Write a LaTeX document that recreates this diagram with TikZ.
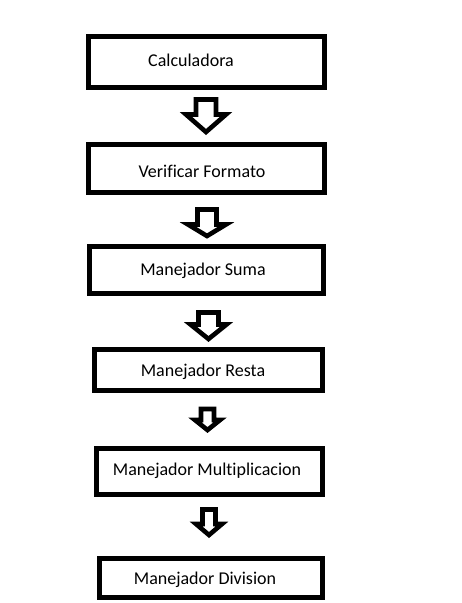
\documentclass[tikz,border=0pt]{standalone}
\usepackage{fontspec}
\setmainfont{Carlito}[Ligatures=NoCommon]
\begin{document}
\begin{tikzpicture}[x=1pt,y=-1pt,
  box/.style={draw=black, line width=5pt, inner sep=0pt},
  lbl/.style={font=\fontsize{18pt}{21pt}\selectfont, inner sep=0pt, text=black},
  blk/.style={draw=black, line width=4.6pt, line join=miter, fill=white}]
\useasboundingbox (0,0) rectangle (461,603);
\fill[white] (0,0) rectangle (461,603);
\newcommand\blockarr[6]{\draw[blk] (#1-#5,#2) -- (#1+#5,#2) -- (#1+#5,#3) -- (#1+#6,#3) -- (#1,#4) -- (#1-#6,#3) -- (#1-#5,#3) -- cycle;}
% boxes
\node[box, minimum width=236pt, minimum height=51pt] (b1) at (206.5,62) {};
\node[box, minimum width=236pt, minimum height=48pt] (b2) at (206.5,168.5) {};
\node[box, minimum width=234pt, minimum height=47pt] (b3) at (206.5,270) {};
\node[box, minimum width=228pt, minimum height=41pt] (b4) at (208.5,370) {};
\node[box, minimum width=226pt, minimum height=46pt] (b5) at (209.5,471.5) {};
\node[box, minimum width=223pt, minimum height=39pt] (b6) at (211,578) {};
% labels
\node[lbl] (t1) at (191,60) {Calculadora};
\node[lbl] (t2) at (202,171) {Verificar Formato};
\node[lbl] (t3) at (203,271) {Manejador Suma};
\node[lbl] (t4) at (203,372) {Manejador Resta};
\node[lbl] (t5) at (207,471) {Manejador Multiplicacion};
\node[lbl] (t6) at (205,580) {Manejador Division};
% block arrows
\blockarr{206}{99.5}{114.5}{132}{10}{20}
\blockarr{207}{209.5}{224.5}{236}{9.5}{19}
\blockarr{208.5}{312.5}{324.5}{339}{10}{18}
\blockarr{207.5}{409}{420}{430}{6.5}{12.5}
\blockarr{209}{509.5}{524}{535}{6.5}{13}
\end{tikzpicture}
\end{document}
